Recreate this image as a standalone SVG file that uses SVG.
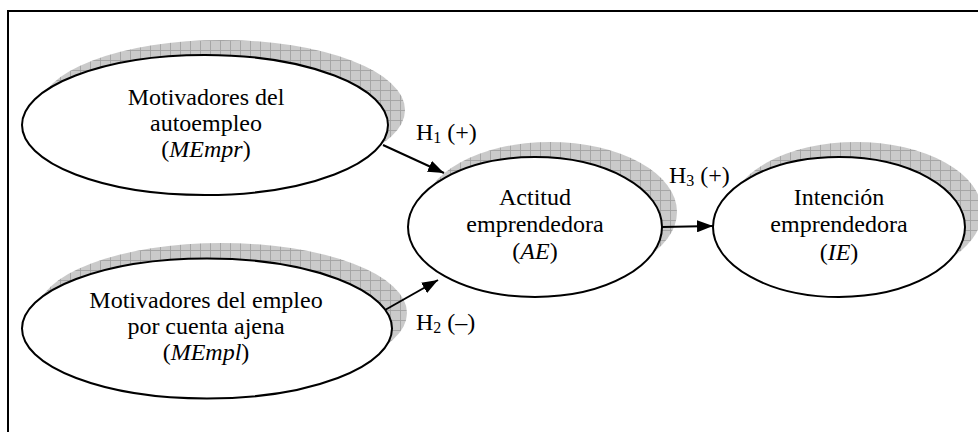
<svg xmlns="http://www.w3.org/2000/svg" width="978" height="432" viewBox="0 0 978 432">
<style>
.shadow{fill:url(#hatch);stroke:none}
.node{fill:#fff;stroke:#000;stroke-width:2}
.t{font-family:"Liberation Serif","Times New Roman",serif;font-size:24px;fill:#000;text-anchor:middle}
.lbl{font-family:"Liberation Serif","Times New Roman",serif;font-size:24px;fill:#000}
.edge{stroke:#000;stroke-width:2;fill:none;marker-end:url(#arrow)}
</style>
<defs>
<pattern id="hatch" patternUnits="userSpaceOnUse" width="10" height="10">
<rect width="10" height="10" fill="#cacaca"/>
<path d="M0,0.5H10M0.5,0V10" stroke="#a2a2a2" stroke-width="0.9"/>
</pattern>
<marker id="arrow" viewBox="0 0 16 12" refX="16" refY="6" markerWidth="16" markerHeight="12" markerUnits="userSpaceOnUse" orient="auto">
<path d="M0,0L16,6L0,12z" fill="#000"/>
</marker>
</defs>
<rect width="978" height="432" fill="#fff"/>
<path d="M8,432V11H978" fill="none" stroke="#000" stroke-width="2"/>

<g id="node-mempr">
<ellipse class="shadow" cx="222" cy="110" rx="183" ry="70"/>
<ellipse class="node" cx="205" cy="125" rx="183" ry="70"/>
<text class="t" x="206" y="105">Motivadores del</text>
<text class="t" x="206" y="131">autoempleo</text>
<text class="t" x="206" y="157">(<tspan font-style="italic">MEmpr</tspan>)</text>
</g>

<g id="node-mempl">
<ellipse class="shadow" cx="222" cy="313" rx="185" ry="70"/>
<ellipse class="node" cx="207" cy="328.5" rx="185" ry="70"/>
<text class="t" x="206" y="308">Motivadores del empleo</text>
<text class="t" x="206" y="334">por cuenta ajena</text>
<text class="t" x="206" y="360">(<tspan font-style="italic">MEmpl</tspan>)</text>
</g>

<g id="node-ae">
<ellipse class="shadow" cx="550" cy="212" rx="127" ry="70"/>
<ellipse class="node" cx="535" cy="227" rx="127" ry="70"/>
<text class="t" x="535" y="205">Actitud</text>
<text class="t" x="535" y="232">emprendedora</text>
<text class="t" x="535" y="259">(<tspan font-style="italic">AE</tspan>)</text>
</g>

<g id="node-ie">
<ellipse class="shadow" cx="856" cy="212" rx="126" ry="70"/>
<ellipse class="node" cx="839" cy="227" rx="126" ry="70"/>
<text class="t" x="839" y="205">Intención</text>
<text class="t" x="839" y="232">emprendedora</text>
<text class="t" x="839" y="260">(<tspan font-style="italic">IE</tspan>)</text>
</g>

<g id="connectors">
<line class="edge" x1="383" y1="145" x2="444" y2="173"/>
<line class="edge" x1="385" y1="310" x2="438" y2="280"/>
<line class="edge" x1="662" y1="227" x2="713" y2="226"/>
<text class="lbl" x="416" y="140">H<tspan font-size="16" dy="3">1</tspan><tspan dy="-3"> (+)</tspan></text>
<text class="lbl" x="416" y="330">H<tspan font-size="16" dy="3">2</tspan><tspan dy="-3"> (–)</tspan></text>
<text class="lbl" x="669" y="183">H<tspan font-size="16" dy="3">3</tspan><tspan dy="-3"> (+)</tspan></text>
</g>
</svg>
